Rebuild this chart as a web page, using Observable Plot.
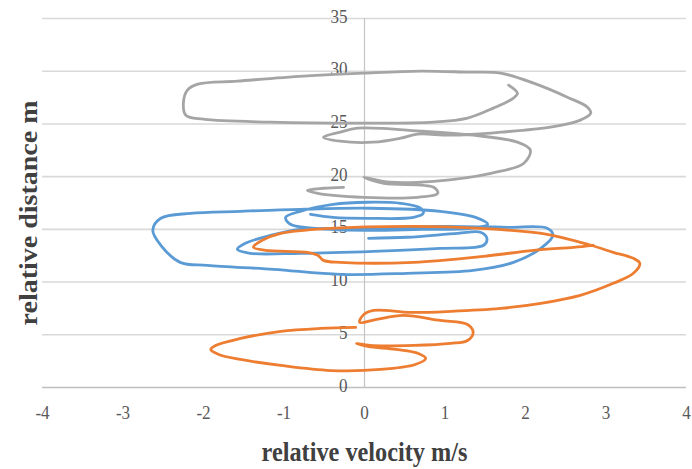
<!DOCTYPE html>
<html>
<head>
<meta charset="utf-8">
<script src="https://cdn.jsdelivr.net/npm/d3@7"></script>
<script src="https://cdn.jsdelivr.net/npm/@observablehq/plot@0.6"></script>
<style>
  body { margin: 0; background: #fff; }
</style>
</head>
<body>
<div id="chart"></div>
<script>
// Axis ticks
const xTicks = [-4, -3, -2, -1, 0, 1, 2, 3, 4];
const yTicks = [0, 5, 10, 15, 20, 25, 30, 35];

// Blue trajectory: relative velocity (m/s) and relative distance (m)
const blueVelocity = [0.05, 0.53, 1.16, 1.44, 1.52, 1.48, 0.94, 0.11, -0.80, -1.42, -1.58, -1.48, -1.17, -0.80, -0.30, 0.07, 0.94, 1.78, 2.27, 2.34, 2.19, 1.85, 1.35, 0.53, -0.30, -1.13, -1.95, -2.29, -2.53, -2.63, -2.53, -2.16, -1.54, -0.80, 0.07, 0.94, 1.38, 1.53, 1.32, 0.70, 0.07, -0.42, -0.92, -0.98, -0.80, -0.39, 0.04, 0.45, 0.70, 0.73, 0.61, 0.04, -0.39, -0.67];
const blueDistance = [14.15, 14.25, 14.62, 14.72, 14.15, 13.49, 13.20, 12.92, 12.73, 12.73, 13.11, 13.68, 14.43, 15.00, 15.10, 15.10, 15.29, 15.19, 15.10, 14.43, 13.20, 11.87, 11.11, 10.83, 10.73, 11.21, 11.59, 11.87, 13.49, 14.91, 16.05, 16.52, 16.71, 16.90, 17.00, 16.71, 16.14, 15.48, 15.10, 15.00, 14.91, 15.00, 15.48, 16.14, 16.71, 17.38, 17.57, 17.47, 17.00, 16.52, 16.14, 16.05, 16.14, 16.43];

// Orange trajectory
const orangeVelocity = [-0.11, -0.55, -1.04, -1.54, -1.85, -1.91, -1.81, -1.54, -1.04, -0.42, 0.20, 0.63, 0.76, 0.67, 0.39, 0.04, -0.10, 0.07, 0.61, 1.07, 1.28, 1.35, 1.28, 0.94, 0.48, 0.15, -0.06, -0.02, 0.11, 0.57, 1.07, 1.69, 2.19, 2.68, 3.09, 3.34, 3.42, 3.34, 3.09, 2.81, 2.27, 1.44, 0.61, -0.42, -1.04, -1.27, -1.38, -1.23, -0.71, -0.58, -0.51, -0.30, 0.61, 1.48, 2.10, 2.60, 2.84];
const orangeDistance = [5.70, 5.60, 5.32, 4.65, 3.99, 3.61, 3.13, 2.66, 2.09, 1.61, 1.71, 2.18, 2.75, 3.23, 3.61, 3.89, 4.18, 3.99, 3.99, 4.18, 4.46, 5.22, 5.98, 6.36, 6.84, 6.46, 6.17, 6.84, 7.31, 7.12, 7.22, 7.50, 7.98, 8.74, 9.88, 10.83, 11.78, 12.25, 12.82, 13.49, 14.53, 15.10, 15.29, 15.10, 14.62, 13.96, 13.30, 13.01, 12.82, 12.54, 12.06, 11.87, 11.87, 12.44, 13.01, 13.30, 13.49];

// Gray trajectory
const grayVelocity = [1.79, 1.90, 1.85, 1.60, 1.28, 0.86, 0.07, -1.17, -2.00, -2.22, -2.25, -2.20, -2.07, -1.58, -0.76, -0.01, 0.70, 1.28, 1.69, 2.10, 2.52, 2.77, 2.81, 2.68, 2.31, 1.69, 1.07, 0.66, 0.45, 0.11, -0.30, -0.51, -0.30, -0.09, 0.73, 1.35, 1.90, 2.06, 1.98, 1.57, 0.86, 0.32, -0.01, 0.24, 0.86, 0.91, 0.66, -0.01, -0.58, -0.71, -0.51, -0.26];
const grayDistance = [28.68, 27.92, 27.45, 26.50, 25.55, 25.17, 25.07, 25.17, 25.45, 25.83, 26.97, 28.21, 28.77, 29.06, 29.53, 29.82, 30.01, 29.91, 29.82, 28.87, 27.54, 26.59, 26.02, 25.36, 24.69, 24.22, 23.93, 24.03, 23.65, 23.27, 23.36, 23.74, 24.22, 24.60, 24.31, 23.93, 23.27, 22.51, 21.27, 20.32, 19.56, 19.47, 19.94, 19.37, 18.99, 18.42, 18.04, 18.04, 18.42, 18.71, 18.90, 18.99];

const seriesColors = { blue: "#5B9BD5", orange: "#ED7D31", gray: "#A5A5A5" };

function toRows(name, vs, ds) {
  return vs.map((v, i) => ({ series: name, velocity: v, distance: ds[i] }));
}
const blueRows = toRows("blue", blueVelocity, blueDistance);
const orangeRows = toRows("orange", orangeVelocity, orangeDistance);
const grayRows = toRows("gray", grayVelocity, grayDistance);

const serif = "'Liberation Serif', 'Times New Roman', serif";
const lineOpts = (color) => ({
  x: "velocity", y: "distance", stroke: color, strokeWidth: 2.8,
  curve: "catmull-rom", strokeLinejoin: "round", strokeLinecap: "round"
});

const chart = Plot.plot({
  width: 692,
  height: 469,
  marginLeft: 42,
  marginRight: 6,
  marginTop: 18,
  marginBottom: 82,
  style: { fontFamily: serif, background: "#fff" },
  x: { domain: [-4, 4], axis: null },
  y: { domain: [0, 35], axis: null },
  marks: [
    Plot.ruleY(yTicks.filter(d => d > 0), { stroke: "#d9d9d9", strokeWidth: 1.6 }),
    Plot.ruleY([0], { stroke: "#bfbfbf", strokeWidth: 1.6 }),
    Plot.ruleX([0], { stroke: "#c4c4c4", strokeWidth: 1.2 }),
    Plot.text(yTicks, {
      x: 0, y: d => d, text: d => String(d), textAnchor: "end",
      dx: -17, dy: -2, fontSize: 19, fill: "#595959", fontFamily: serif
    }),
    Plot.text(xTicks, {
      x: d => d, y: 0, text: d => String(d), dy: 25,
      fontSize: 19, fill: "#595959", fontFamily: serif
    }),
    Plot.text(["relative velocity m/s"], {
      frameAnchor: "bottom", lineAnchor: "middle", textAnchor: "middle", dy: 65,
      fontSize: 27, fontWeight: "bold", fill: "#404040", fontFamily: serif
    }),
    Plot.text(["relative distance m"], {
      frameAnchor: "left", lineAnchor: "middle", textAnchor: "middle", rotate: -90, dx: -14, dy: 10,
      fontSize: 28, fontWeight: "bold", fill: "#404040", fontFamily: serif
    }),
    Plot.line(blueRows, lineOpts(seriesColors.blue)),
    Plot.line(orangeRows, lineOpts(seriesColors.orange)),
    Plot.line(grayRows, lineOpts(seriesColors.gray))
  ]
});

// Narrow the serif lettering a little (condensed look of the labels)
chart.querySelectorAll("text").forEach(t => {
  const tr = t.getAttribute("transform") || "";
  const rotated = /rotate/.test(tr);
  t.setAttribute("transform", `${tr} ${rotated ? "scale(1,0.9)" : "scale(0.9,1)"}`);
});

document.getElementById("chart").appendChild(chart);
</script>
</body>
</html>
